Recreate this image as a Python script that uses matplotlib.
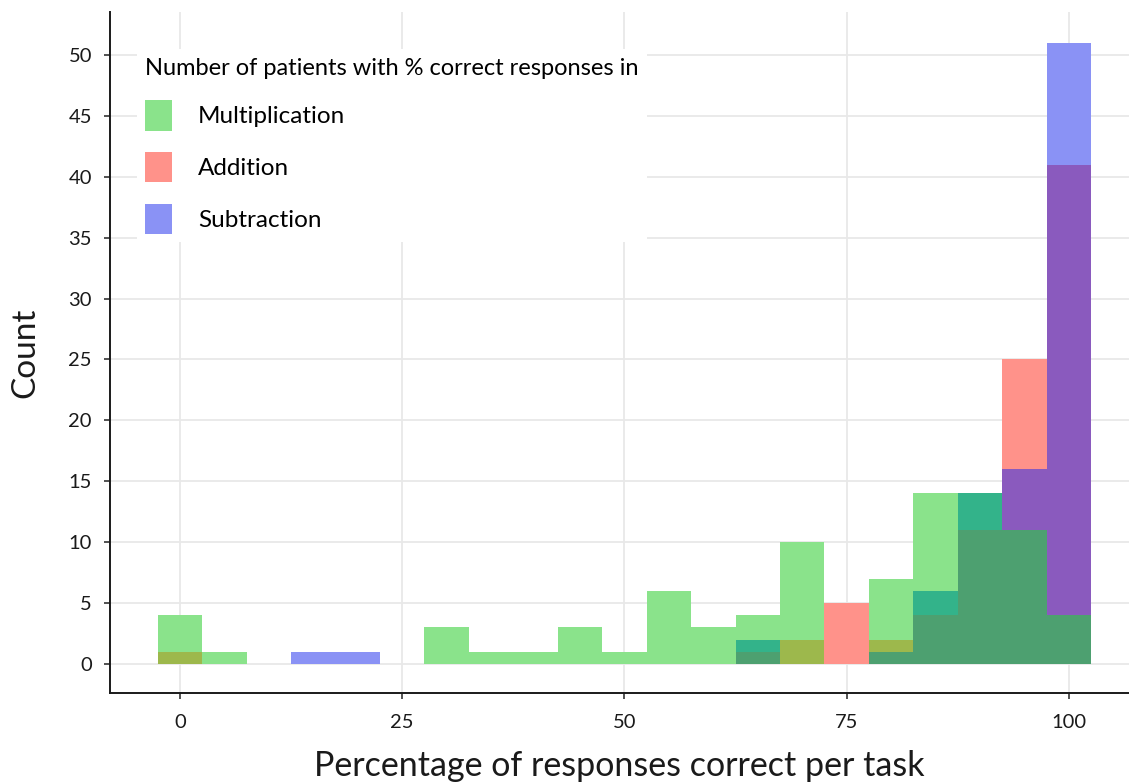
"""Overlapping histograms of per-task correct-response percentages."""

import matplotlib
matplotlib.use('Agg')
import matplotlib.pyplot as plt
import numpy as np
from matplotlib.patches import Patch

plt.rcParams['font.family'] = ['Lato', 'DejaVu Sans']

# bin centres (5 % wide bins) and patient counts per task
bin_centers = np.arange(0, 101, 5)
multiplication = [4, 1, 0, 0, 0, 0, 3, 1, 1, 3, 1, 6, 3, 4, 10, 0, 7, 14, 14, 11, 4]
addition = [1, 0, 0, 0, 0, 0, 0, 0, 0, 0, 0, 0, 0, 1, 2, 5, 2, 4, 11, 25, 41]
subtraction = [0, 0, 0, 1, 1, 0, 0, 0, 0, 0, 0, 0, 0, 2, 0, 0, 1, 6, 14, 16, 51]

series_names = ['Multiplication', 'Addition', 'Subtraction']
x_ticks = [0, 25, 50, 75, 100]
y_ticks = list(range(0, 51, 5))

# colour of a region depending on which series overlap there
OVERLAP_COLORS = {
    frozenset({0}): '#8ae38b',
    frozenset({1}): '#ff928a',
    frozenset({2}): '#8a92f5',
    frozenset({0, 1}): '#9db84c',
    frozenset({0, 2}): '#33b38a',
    frozenset({1, 2}): '#8a5abe',
    frozenset({0, 1, 2}): '#4da070',
}

fig = plt.figure(figsize=(11.29, 7.84), dpi=100)
ax = fig.add_axes([0.0974, 0.1161, 0.9026, 0.8686])

counts = np.array([multiplication, addition, subtraction])
for i, center in enumerate(bin_centers):
    col = counts[:, i]
    levels = sorted(set([0] + col.tolist()))
    for lo, hi in zip(levels[:-1], levels[1:]):
        members = frozenset(k for k in range(3) if col[k] >= hi)
        ax.bar(center, hi - lo, bottom=lo, width=5,
               color=OVERLAP_COLORS[members], linewidth=0, zorder=2)

ax.set_xlim(-7.87, 106.75)
ax.set_ylim(-2.38, 53.53)
ax.set_xticks(x_ticks)
ax.set_yticks(y_ticks)
ax.grid(True, color='#e8e8e8', linewidth=1.3, zorder=0)
ax.set_axisbelow(True)

for side in ['top', 'right']:
    ax.spines[side].set_visible(False)
for side in ['left', 'bottom']:
    ax.spines[side].set_linewidth(1.4)
    ax.spines[side].set_color('#1a1a1a')
ax.tick_params(axis='both', length=4, width=1.2, color='#333333',
               labelsize=14.5, labelcolor='#1a1a1a')
ax.tick_params(axis='y', pad=9)
ax.tick_params(axis='x', pad=11)

ax.set_xlabel('Percentage of responses correct per task', fontsize=24.5,
              labelpad=14, color='#1a1a1a')
ax.set_ylabel('Count', fontsize=24, labelpad=20, color='#1a1a1a')

handles = [Patch(facecolor=OVERLAP_COLORS[frozenset({k})], edgecolor='none')
           for k in range(3)]
leg = ax.legend(handles, series_names,
                title='Number of patients with % correct responses in',
                loc='upper left', bbox_to_anchor=(0.0265, 0.945),
                borderaxespad=0,
                fontsize=17.5, title_fontsize=17, alignment='left',
                handlelength=1.1, handleheight=1.54, handletextpad=1.07,
                labelspacing=0.88, borderpad=0.35, frameon=True,
                fancybox=False, framealpha=1.0)
leg.get_frame().set_edgecolor('none')
leg.get_frame().set_facecolor('white')
leg.set_zorder(5)

fig.savefig('out.png', dpi=100)
